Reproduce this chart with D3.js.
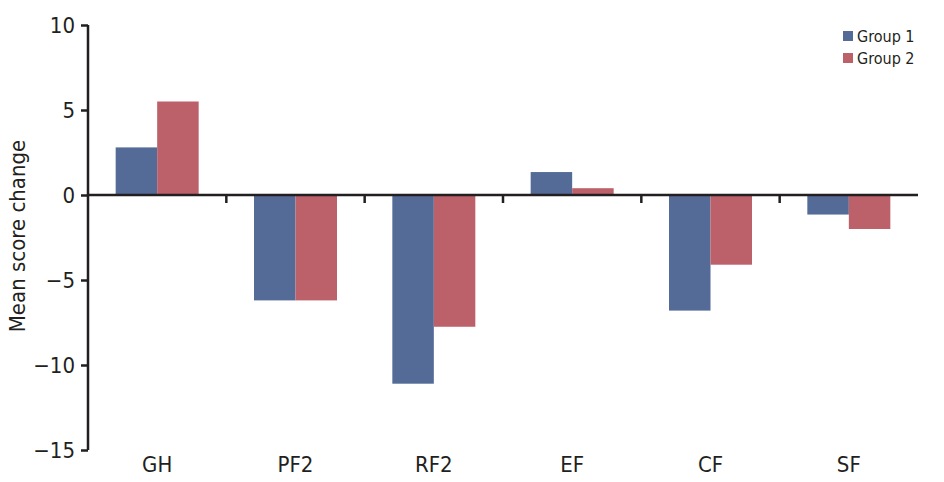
<!DOCTYPE html>
<html><head><meta charset="utf-8">
<script src="https://cdn.jsdelivr.net/npm/d3@7/dist/d3.min.js"></script>
<style>
body{margin:0;background:#fff;}
text{font-family:"Liberation Sans Narrow","DejaVu Sans Condensed","Liberation Sans",sans-serif;fill:#231f20;}
</style></head>
<body><svg id="c" width="944" height="482"></svg>
<script>
(function(){
const categories = ["GH","PF2","RF2","EF","CF","SF"];
const seriesNames = ["Group 1","Group 2"];
const group1 = [2.8, -6.2, -11.1, 1.35, -6.8, -1.15];
const group2 = [5.5, -6.2, -7.75, 0.4, -4.1, -2.0];
const yTicks = [10, 5, 0, -5, -10, -15];
const colors = ["#546b97", "#bc606a"];

const svg = d3.select("#c");
const mLeft = 88, mRight = 918, mTop = 25, mBottom = 450;
const y = d3.scaleLinear().domain([-15, 10]).range([mBottom, mTop]);
const x = d3.scaleBand().domain(categories).range([mLeft, mRight]).paddingInner(0.4).paddingOuter(0.2);
const xs = d3.scaleBand().domain(seriesNames).range([0, x.bandwidth()]);
const step = x.step();
const series = [group1, group2];

// bars
series.forEach((vals, si) => {
  svg.append("g").selectAll("rect").data(categories).join("rect")
    .attr("x", c => x(c) + xs(seriesNames[si]))
    .attr("width", xs.bandwidth())
    .attr("y", (c, i) => y(Math.max(0, vals[i])))
    .attr("height", (c, i) => Math.abs(y(vals[i]) - y(0)))
    .attr("fill", colors[si]);
});

// y axis
const ya = svg.append("g").attr("transform", `translate(${mLeft},0)`)
  .call(d3.axisLeft(y).tickValues(yTicks).tickSize(7).tickPadding(6)
    .tickFormat(d => d < 0 ? "\u2212" + Math.abs(d) : d));
ya.select(".domain").attr("stroke", "#231f20").attr("stroke-width", 2.5).attr("d", `M0,${mTop}V${mBottom}`);
ya.selectAll(".tick line").attr("stroke", "#231f20").attr("stroke-width", 2.5);
ya.selectAll(".tick text").attr("font-size", 22).attr("fill", "#231f20")
  .style("font-family", '"Liberation Sans Narrow","DejaVu Sans Condensed",sans-serif');

// x axis line at zero
svg.append("line").attr("x1", mLeft).attr("x2", mRight).attr("y1", y(0)).attr("y2", y(0))
  .attr("stroke", "#231f20").attr("stroke-width", 2.5);
// boundary ticks
svg.append("g").selectAll("line").data(categories.slice(1)).join("line")
  .attr("x1", c => x(c) - step * 0.2).attr("x2", c => x(c) - step * 0.2)
  .attr("y1", y(0)).attr("y2", y(0) + 8)
  .attr("stroke", "#231f20").attr("stroke-width", 2.5);

// category labels
svg.append("g").selectAll("text").data(categories).join("text")
  .attr("x", c => x(c) + x.bandwidth() / 2).attr("y", 472)
  .attr("text-anchor", "middle").attr("font-size", 22).text(c => c);

// y label
svg.append("text").attr("transform", "translate(25,236) rotate(-90)")
  .attr("text-anchor", "middle").attr("font-size", 22).text("Mean score change");

// legend
const lg = svg.append("g").attr("transform", "translate(843,31)");
seriesNames.forEach((n, i) => {
  lg.append("rect").attr("x", 0).attr("y", i * 22).attr("width", 10).attr("height", 10).attr("fill", colors[i]);
  lg.append("text").attr("x", 14).attr("y", i * 22 + 10.5).attr("font-size", 16).text(n);
});
})();
</script></body></html>
